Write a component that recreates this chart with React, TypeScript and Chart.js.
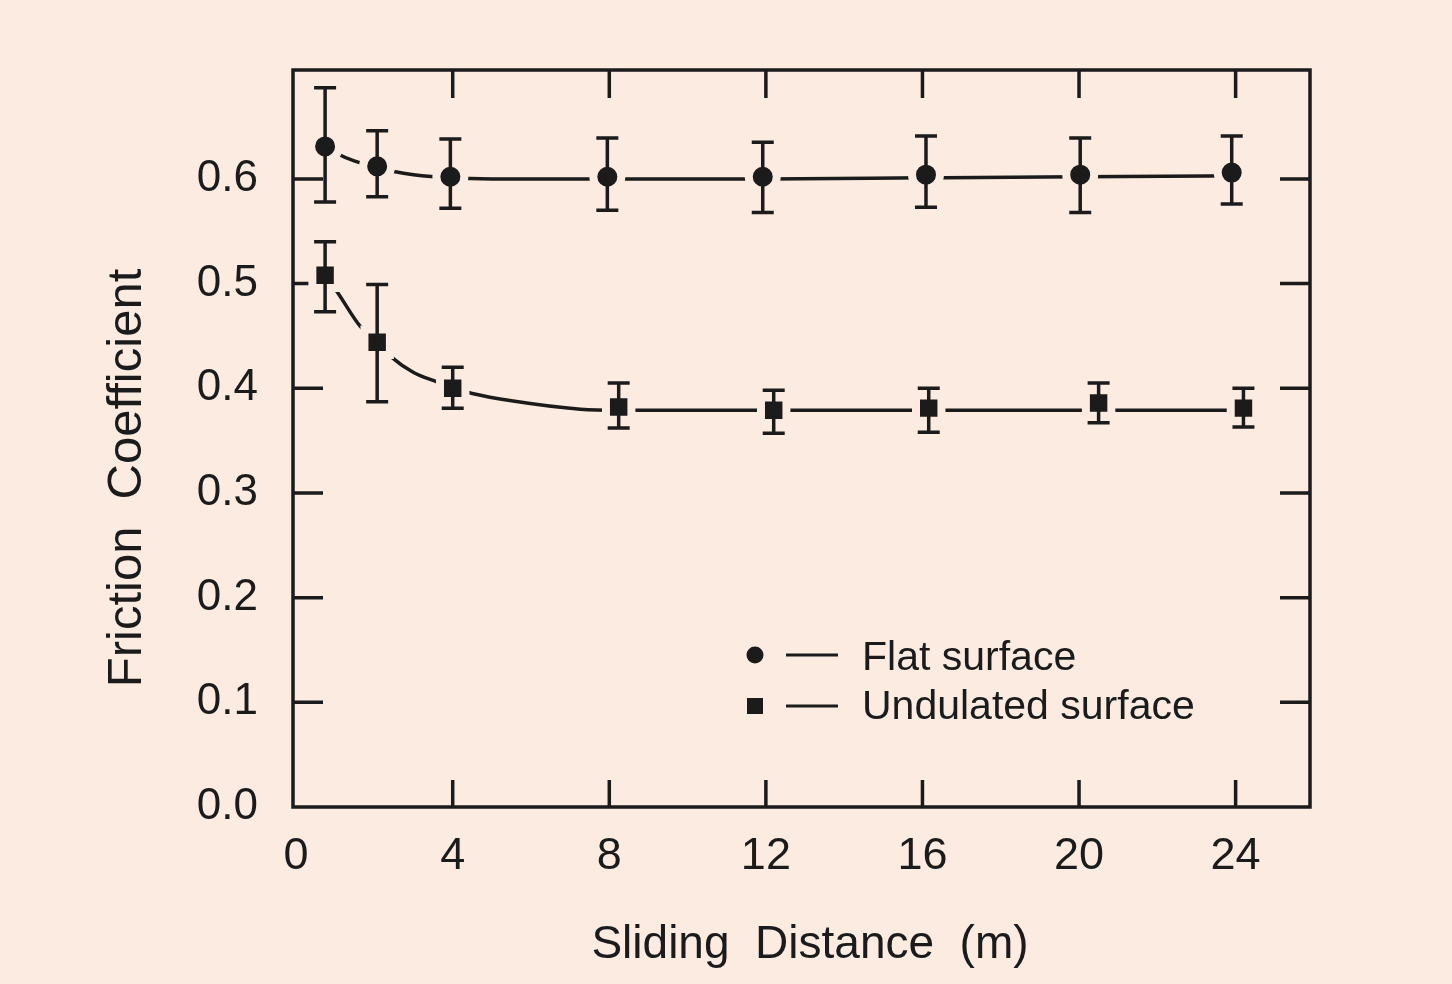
import React, { useEffect, useRef } from "react";
import { Chart, registerables } from "chart.js";

Chart.register(...registerables);

// ---- data ----
const xTicks = [0, 4, 8, 12, 16, 20, 24];
const yTicks = [0, 0.1, 0.2, 0.3, 0.4, 0.5, 0.6];

const flatX = [0.74, 2.07, 3.94, 7.95, 11.92, 16.09, 20.03, 23.9];
const flatY = [0.631, 0.612, 0.602, 0.602, 0.602, 0.604, 0.604, 0.606];
const flatHi = [0.687, 0.646, 0.638, 0.639, 0.635, 0.641, 0.639, 0.641];
const flatLo = [0.578, 0.583, 0.572, 0.57, 0.568, 0.573, 0.568, 0.576];

const undX = [0.74, 2.07, 4.0, 8.24, 12.2, 16.16, 20.5, 24.2];
const undY = [0.508, 0.444, 0.4, 0.382, 0.379, 0.381, 0.386, 0.381];
const undHi = [0.54, 0.499, 0.42, 0.405, 0.398, 0.4, 0.405, 0.4];
const undLo = [0.473, 0.387, 0.381, 0.362, 0.357, 0.358, 0.367, 0.363];

// fitted curves
const flatFitX = [0.74, 1.0, 1.5, 2.07, 2.5, 3.0, 3.94, 5, 6, 8, 12, 16, 20, 23.9];
const flatFitY = [0.631, 0.625, 0.617, 0.611, 0.607, 0.604, 0.601, 0.6, 0.6, 0.6, 0.6, 0.601, 0.602, 0.603];
const undFitX = [0.74, 1.05, 1.64, 2.07, 2.46, 3.0, 3.6, 3.94, 4.5, 5.5, 7.26, 8.24, 12, 16, 20, 24.2];
const undFitY = [0.508, 0.492, 0.459, 0.444, 0.429, 0.415, 0.406, 0.401, 0.395, 0.388, 0.38, 0.379, 0.379, 0.379, 0.379, 0.379];

const legendLabels = ["Flat surface", "Undulated surface"];
const xTitle = "Sliding  Distance  (m)";
const yTitle = "Friction  Coefficient";

const BG = "#fbebe0";
const INK = "#1b1b1b";
const FONT = "'Liberation Sans', Arial, Helvetica, sans-serif";

const pts = (xs: number[], ys: number[]) => xs.map((x, i) => ({ x, y: ys[i] }));

export default function App() {
  const ref = useRef<HTMLCanvasElement | null>(null);

  useEffect(() => {
    const canvas = ref.current;
    if (!canvas) return;

    const bgPlugin = {
      id: "bg",
      beforeDraw(chart: any) {
        const { ctx, width, height } = chart;
        ctx.save();
        ctx.fillStyle = BG;
        ctx.fillRect(0, 0, width, height);
        ctx.restore();
      },
    };

    const framePlugin = {
      id: "frame",
      beforeDatasetsDraw(chart: any) {
        const { ctx, chartArea: a, scales } = chart;
        const xs = scales.x;
        const ys = scales.y;
        ctx.save();
        ctx.strokeStyle = INK;
        ctx.lineWidth = 3.5;
        ctx.lineCap = "square";
        ctx.strokeRect(a.left, a.top, a.right - a.left, a.bottom - a.top);
        ctx.lineCap = "butt";
        for (const v of yTicks) {
          const y = ys.getPixelForValue(v);
          if (Math.abs(y - a.bottom) < 6) continue;
          ctx.beginPath();
          ctx.moveTo(a.left, y);
          ctx.lineTo(a.left + 30, y);
          ctx.moveTo(a.right, y);
          ctx.lineTo(a.right - 30, y);
          ctx.stroke();
        }
        for (const v of xTicks) {
          const x = xs.getPixelForValue(v);
          if (Math.abs(x - a.left) < 6) continue;
          ctx.beginPath();
          ctx.moveTo(x, a.top);
          ctx.lineTo(x, a.top + 28);
          ctx.moveTo(x, a.bottom);
          ctx.lineTo(x, a.bottom - 27);
          ctx.stroke();
        }
        ctx.restore();
      },
    };

    const errPlugin = {
      id: "errbars",
      afterDatasetsDraw(chart: any) {
        const { ctx, scales } = chart;
        const xs = scales.x;
        const ys = scales.y;
        const sets = [
          [flatX, flatLo, flatHi],
          [undX, undLo, undHi],
        ];
        ctx.save();
        ctx.strokeStyle = INK;
        ctx.lineWidth = 3.5;
        for (const [X, L, H] of sets) {
          X.forEach((xv: number, i: number) => {
            const x = xs.getPixelForValue(xv);
            const y1 = ys.getPixelForValue(L[i]);
            const y2 = ys.getPixelForValue(H[i]);
            ctx.beginPath();
            ctx.moveTo(x, y1);
            ctx.lineTo(x, y2);
            ctx.moveTo(x - 11, y1);
            ctx.lineTo(x + 11, y1);
            ctx.moveTo(x - 11, y2);
            ctx.lineTo(x + 11, y2);
            ctx.stroke();
          });
        }
        ctx.restore();
      },
    };

    const textPlugin = {
      id: "textBits",
      afterDraw(chart: any) {
        const { ctx } = chart;
        ctx.save();
        ctx.fillStyle = INK;
        ctx.strokeStyle = INK;
        ctx.lineWidth = 3;
        // legend markers
        ctx.beginPath();
        ctx.arc(755, 655, 8.5, 0, Math.PI * 2);
        ctx.fill();
        ctx.fillRect(747, 698, 16, 16);
        ctx.beginPath();
        ctx.moveTo(786, 655);
        ctx.lineTo(838, 655);
        ctx.moveTo(786, 706);
        ctx.lineTo(838, 706);
        ctx.stroke();
        ctx.font = `41px ${FONT}`;
        ctx.textBaseline = "middle";
        ctx.textAlign = "left";
        ctx.fillText(legendLabels[0], 862, 659);
        ctx.fillText(legendLabels[1], 862, 708);
        // axis titles
        ctx.textAlign = "center";
        ctx.font = `46px ${FONT}`;
        ctx.fillText(xTitle, 810, 945);
        ctx.translate(127, 478);
        ctx.rotate(-Math.PI / 2);
        ctx.font = `49px ${FONT}`;
        ctx.fillText(yTitle, 0, 0);
        ctx.restore();
      },
    };

    const chart = new Chart(canvas, {
      type: "scatter",
      data: {
        datasets: [
          {
            label: legendLabels[0],
            data: pts(flatX, flatY),
            showLine: false,
            pointStyle: "circle",
            pointRadius: 14,
            pointBorderWidth: 8,
            pointBorderColor: BG,
            pointBackgroundColor: INK,
            order: 1,
          },
          {
            label: legendLabels[1],
            data: pts(undX, undY),
            showLine: false,
            pointStyle: "rect",
            pointRadius: 18,
            pointBorderWidth: 8,
            pointBorderColor: BG,
            pointBackgroundColor: INK,
            order: 1,
          },
          {
            label: "flat fit",
            data: pts(flatFitX, flatFitY),
            showLine: true,
            borderColor: INK,
            borderWidth: 3.5,
            pointRadius: 0,
            cubicInterpolationMode: "monotone",
            order: 2,
          },
          {
            label: "undulated fit",
            data: pts(undFitX, undFitY),
            showLine: true,
            borderColor: INK,
            borderWidth: 3.5,
            pointRadius: 0,
            cubicInterpolationMode: "monotone",
            order: 2,
          },
        ],
      },
      options: {
        animation: false,
        responsive: false,
        devicePixelRatio: 1,
        events: [],
        layout: { padding: { left: 0, top: 70, right: 142, bottom: 0 } },
        plugins: {
          legend: { display: false },
          tooltip: { enabled: false },
        },
        scales: {
          x: {
            type: "linear",
            min: -0.08,
            max: 25.9,
            afterBuildTicks: (s: any) => {
              s.ticks = xTicks.map((v) => ({ value: v }));
            },
            afterFit: (s: any) => {
              s.height = 177;
            },
            grid: { display: false, drawTicks: false },
            border: { display: false },
            ticks: {
              color: INK,
              font: { family: FONT, size: 45 },
              padding: 23,
              maxRotation: 0,
              autoSkip: false,
              callback: (v: any) => String(v),
            },
            title: { display: false },
          },
          y: {
            type: "linear",
            min: 0,
            max: 0.704,
            afterBuildTicks: (s: any) => {
              s.ticks = yTicks.map((v) => ({ value: v }));
            },
            afterFit: (s: any) => {
              s.width = 293;
            },
            grid: { display: false, drawTicks: false },
            border: { display: false },
            ticks: {
              color: INK,
              font: { family: FONT, size: 44 },
              padding: 35,
              autoSkip: false,
              callback: (v: any) => Number(v).toFixed(1),
            },
            title: { display: false },
          },
        },
      },
      plugins: [bgPlugin, framePlugin, errPlugin, textPlugin],
    } as any);

    return () => chart.destroy();
  }, []);

  return (
    <div style={{ position: "fixed", left: 0, top: 0, width: 1452, height: 984, background: BG }}>
      <canvas ref={ref} width={1452} height={984} style={{ display: "block", width: 1452, height: 984 }} />
    </div>
  );
}
